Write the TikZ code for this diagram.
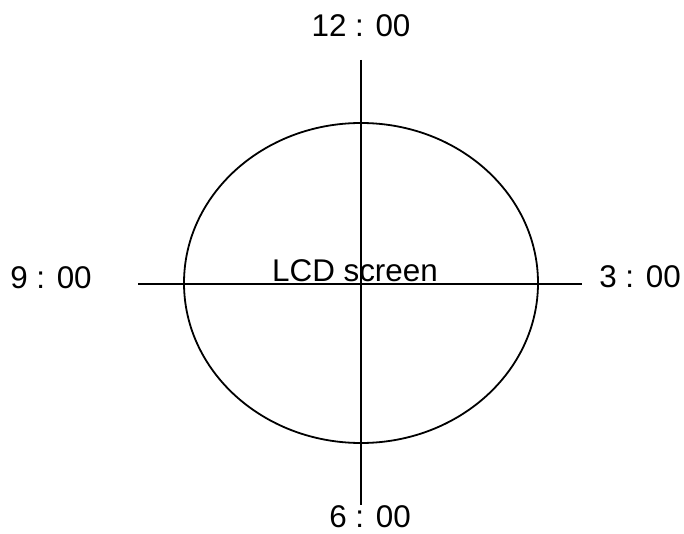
\documentclass[tikz,border=0pt]{standalone}
\usepackage{fontspec}
\setmainfont{Liberation Sans}
\usetikzlibrary{shapes.geometric}

\begin{document}
\begin{tikzpicture}[
    x=1bp, y=-1bp,
    screen/.style={
        ellipse,
        draw=black,
        line width=1.8bp,
        minimum width=354bp,
        minimum height=320bp,
        inner sep=0pt,
    },
    hour/.style={
        anchor=base,
        inner sep=0pt,
        font=\fontsize{31.5}{36}\selectfont
    },
    axis/.style={
        line width=1.8bp,
        draw=black
    }
]
    \useasboundingbox (0,0) rectangle (684,534);

    \node[screen] (lcd) at (361,283) {};

    \coordinate (top) at (361,60);
    \coordinate (bottom) at (361,505);
    \coordinate (left) at (138,284);
    \coordinate (right) at (582,284);

    \draw[axis] (top) -- (bottom);
    \draw[axis] (left) -- (right);

    \node[hour] (twelve) at (361,37) {12 : 00};
    \node[hour] (six) at (370,527) {6 : 00};
    \node[hour] (nine) at (51,288) {9 : 00};
    \node[hour] (three) at (640,287) {3 : 00};

    \node[hour] (label) at (355,281) {LCD screen};
\end{tikzpicture}
\end{document}
